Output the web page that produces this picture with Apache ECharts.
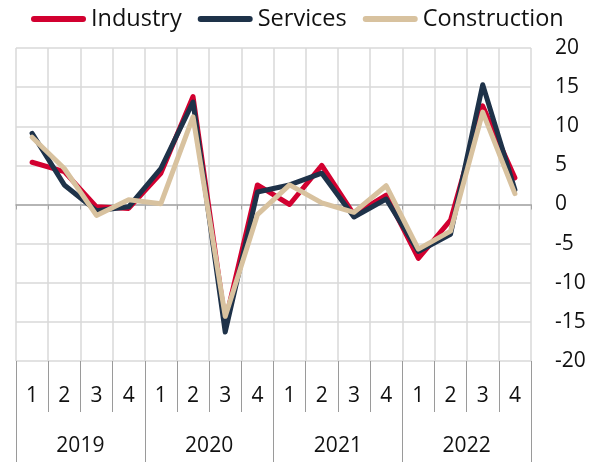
<!DOCTYPE html>
<html>
<head>
<meta charset="utf-8">
<script src="https://cdn.jsdelivr.net/npm/echarts@6/dist/echarts.min.js"></script>
<style>
html,body{margin:0;padding:0;background:#fff;}
#chart{width:603px;height:462px;}
</style>
</head>
<body>
<div id="chart"></div>
<script>
var quarters = ['1','2','3','4','1','2','3','4','1','2','3','4','1','2','3','4'];
var years = ['2019','2020','2021','2022'];
var industry = [5.4, 4.2, -0.3, -0.5, 4.0, 13.8, -15.0, 2.5, 0.0, 5.0, -1.3, 1.2, -6.9, -2.0, 12.6, 3.4];
var services = [9.1, 2.5, -0.8, -0.3, 4.6, 13.1, -16.3, 1.6, 2.5, 4.0, -1.6, 0.7, -6.0, -3.8, 15.3, 1.9];
var construction = [8.6, 4.6, -1.4, 0.6, 0.1, 11.2, -14.3, -1.3, 2.5, 0.2, -1.0, 2.4, -5.7, -3.4, 11.8, 1.4];
var yTicks = [-20, -15, -10, -5, 0, 5, 10, 15, 20];

var FONT = '"Open Sans", sans-serif';
var chart = echarts.init(document.getElementById('chart'), null, {renderer: 'canvas'});
var pill = 'path://M3,0 H52 A3,3 0 0 1 52,6 H3 A3,3 0 0 1 3,0 Z';

function lineSeries(name, data, color) {
  return {
    name: name,
    type: 'line',
    data: data,
    xAxisIndex: 0,
    yAxisIndex: 0,
    symbol: 'none',
    lineStyle: {color: color, width: 5, cap: 'round', join: 'round'},
    itemStyle: {color: color},
    emphasis: {disabled: true},
    animation: false
  };
}

chart.setOption({
  animation: false,
  textStyle: {fontFamily: FONT},
  legend: {
    left: 26,
    top: 2,
    icon: pill,
    itemWidth: 55,
    itemHeight: 6,
    itemGap: 16,
    textStyle: {fontFamily: FONT, fontSize: 23.5, color: '#111'},
    data: ['Industry', 'Services', 'Construction']
  },
  grid: {left: 16, right: 72, top: 48, bottom: 101, containLabel: false},
  xAxis: [
    {
      type: 'category',
      data: quarters,
      position: 'bottom',
      boundaryGap: true,
      axisLine: {show: false, onZero: false},
      axisTick: {show: true, length: 51, lineStyle: {color: '#9a9a9a', width: 1}},
      axisLabel: {fontFamily: FONT, fontSize: 21, color: '#111', margin: 25, interval: 0},
      splitLine: {show: true, interval: 0, lineStyle: {color: '#d9d9d9', width: 1.5}}
    },
    {
      type: 'category',
      data: years,
      position: 'bottom',
      boundaryGap: true,
      axisLine: {show: false, onZero: false},
      axisTick: {show: true, length: 101, lineStyle: {color: '#9a9a9a', width: 1}},
      axisLabel: {fontFamily: FONT, fontSize: 21, color: '#111', margin: 75, interval: 0},
      splitLine: {show: false}
    },
    {
      type: 'category',
      data: quarters,
      position: 'bottom',
      boundaryGap: true,
      axisLine: {show: true, onZero: true, lineStyle: {color: '#a6a6a6', width: 1.5}},
      axisTick: {show: true, length: 5, interval: 0, lineStyle: {color: '#a6a6a6', width: 1}},
      axisLabel: {show: false},
      splitLine: {show: false}
    }
  ],
  yAxis: {
    type: 'value',
    position: 'right',
    min: -20,
    max: 20,
    interval: 5,
    axisLine: {show: false},
    axisTick: {show: false},
    axisLabel: {fontFamily: FONT, fontSize: 21, color: '#111', margin: 24,
      formatter: function (v) { return yTicks.indexOf(v) >= 0 ? String(v) : ''; }},
    splitLine: {show: true, lineStyle: {color: '#d9d9d9', width: 1.5}}
  },
  series: [
    lineSeries('Industry', industry, '#D20030'),
    lineSeries('Services', services, '#1E3249'),
    lineSeries('Construction', construction, '#D8C29F')
  ]
});
</script>
</body>
</html>
